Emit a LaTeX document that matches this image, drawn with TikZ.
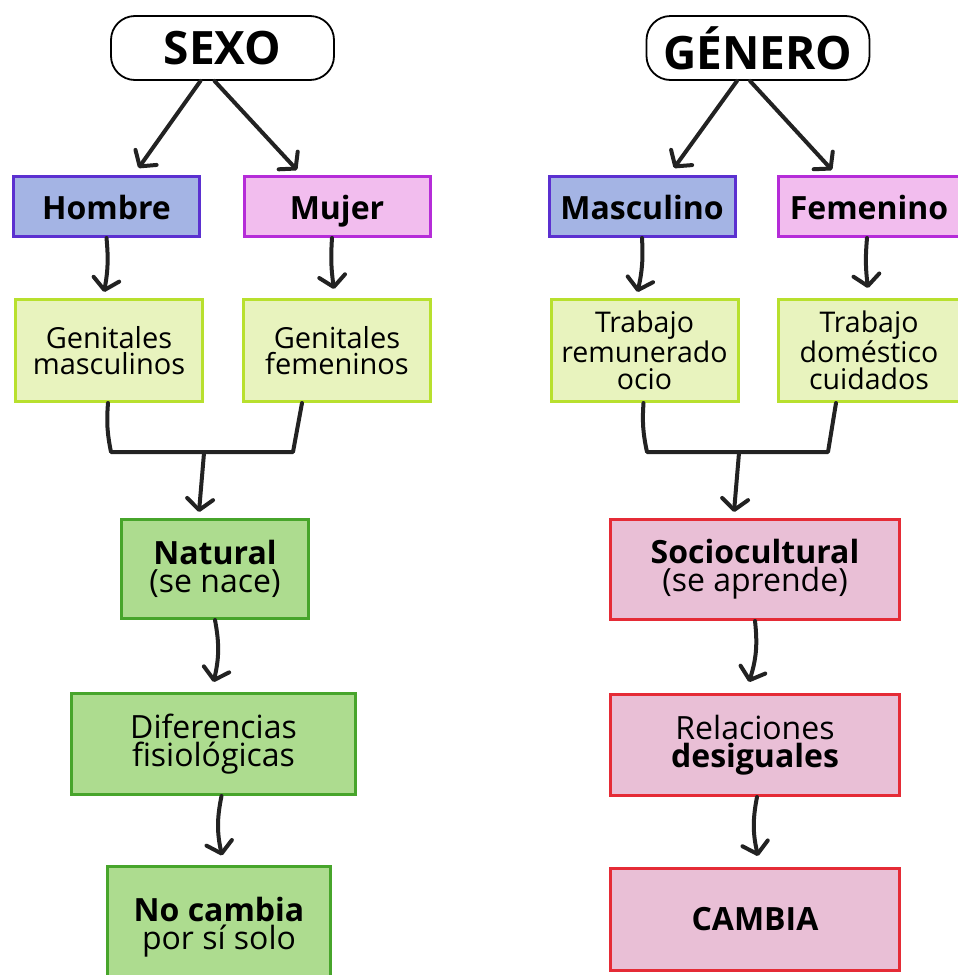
\documentclass[tikz,border=0pt]{standalone}
\usepackage{fontspec}
\setmainfont{Open Sans}
\usetikzlibrary{arrows.meta,calc}
\definecolor{hfill}{HTML}{A4B4E4}
\definecolor{hdraw}{HTML}{5B30D0}
\definecolor{mfill}{HTML}{F2BDEE}
\definecolor{mdraw}{HTML}{B52CD8}
\definecolor{lgfill}{HTML}{E8F3BE}
\definecolor{lgdraw}{HTML}{B8E02E}
\definecolor{gfill}{HTML}{ADDC8F}
\definecolor{gdraw}{HTML}{47A52B}
\definecolor{pfill}{HTML}{E9BFD6}
\definecolor{pdraw}{HTML}{E52B36}
\definecolor{arrowc}{HTML}{222222}
\begin{document}
\begin{tikzpicture}[x=1pt,y=-1pt,
  box/.style={draw, line width=3pt, inner sep=0pt, align=center, font=\fontsize{32}{28}\selectfont},
  titlebox/.style={draw=black, line width=1.8pt, rounded corners=24pt, fill=white, inner sep=0pt,
    font=\fontsize{46}{50}\selectfont\bfseries, minimum width=223pt, minimum height=64pt},
  onel/.style={box, text height=27pt, text depth=1pt, minimum width=186pt, minimum height=60pt},
  blue/.style={onel, fill=hfill, draw=hdraw},
  pinkv/.style={onel, fill=mfill, draw=mdraw},
  lgreen/.style={box, fill=lgfill, draw=lgdraw, minimum width=187pt, minimum height=102pt},
  green/.style={box, fill=gfill, draw=gdraw},
  rose/.style={box, fill=pfill, draw=pdraw},
  conn/.style={draw=arrowc, line width=4pt, line cap=round, line join=round},
  arr/.style={conn, -{Straight Barb[length=11pt,width=26pt,round]}}
]
\useasboundingbox (0,0) rectangle (958,975);
\clip (0,0) rectangle (958,975);

% titles
\node[titlebox] (sexo) at (222.5,48) {SEXO};
\node[titlebox] (genero) at (758,48) {GÉNERO};

% second row
\node[blue] (hombre) at (106.5,206.5) {\bfseries Hombre};
\node[pinkv] (mujer) at (337,206.5) {\bfseries Mujer};
\node[blue] (masc) at (642,206.5) {\bfseries Masculino};
\node[pinkv, minimum width=182pt] (fem) at (869,206.5) {\bfseries Femenino};

% third row
\node[lgreen, font=\fontsize{29}{25.5}\selectfont] (gm) at (109,350.5) {Genitales\\masculinos};
\node[lgreen, font=\fontsize{29}{25.5}\selectfont] (gf) at (337,350.5) {Genitales\\femeninos};
\node[lgreen, font=\fontsize{28.5}{27}\selectfont] (tr) at (644.5,350.5) {Trabajo\\remunerado\\ocio};
\node[lgreen, font=\fontsize{28.5}{27}\selectfont, minimum width=182pt] (td) at (869,350.5) {Trabajo\\doméstico\\cuidados};

% left column
\node[green, minimum width=187pt, minimum height=99pt] (natural) at (215,569) {\textbf{Natural}\\(se nace)};
\node[green, minimum width=284pt, minimum height=101pt] (dif) at (213.5,744) {Diferencias\\fisiológicas};
\node[green, minimum width=223pt, minimum height=122pt] (nocambia) at (219,927) {\textbf{No cambia}\\por sí solo};

% right column
\node[rose, minimum width=289pt, minimum height=100pt] (socio) at (755,569.5) {\textbf{Sociocultural}\\(se aprende)};
\node[rose, minimum width=289pt, minimum height=101pt] (rel) at (755,745) {Relaciones\\\textbf{desiguales}};
\node[rose, minimum width=289pt, minimum height=102pt] (cambia) at (755,919.5) {\textbf{CAMBIA}};

% arrows from titles
\draw[arr] ($(sexo.south)+(-22,0)$) -- ($(hombre.north)+(32,-7)$);
\draw[arr] ($(sexo.south)+(-8,0)$) -- ($(mujer.north)+(-40,-5)$);
\draw[arr] ($(genero.south)+(-21,0)$) -- ($(masc.north)+(32,-7)$);
\draw[arr] ($(genero.south)+(-8,0)$) -- ($(fem.north)+(-37,-5)$);

% to third row
\draw[arr] (hombre.south) to[bend left=8] ($(gm.north)+(-5,-6)$);
\draw[arr] ($(mujer.south)+(-5,0)$) to[bend right=6] ($(gf.north)+(-3,-9)$);
\draw[arr] (masc.south) to[bend left=8] ($(tr.north)+(-7,-6)$);
\draw[arr] ($(fem.south)+(-2,0)$) to[bend right=6] ($(td.north)+(-1,-10)$);

% merges
\coordinate (jl1) at (111,452);
\coordinate (jr1) at (293,452);
\coordinate (jm1) at (204,453);
\draw[conn] ($(gm.south)+(-1,0)$) to[bend right=8] (jl1) -- (jr1) -- ($(gf.south)+(-35,0)$);
\draw[arr] (jm1) -- ($(natural.north)+(-16,-6)$);

\coordinate (jl2) at (647,452);
\coordinate (jr2) at (828,452);
\coordinate (jm2) at (739,453);
\draw[conn] ($(tr.south)+(-1,0)$) to[bend right=8] (jl2) -- (jr2) -- ($(td.south)+(-33,0)$);
\draw[arr] (jm2) -- ($(socio.north)+(-21,-6)$);

% columns
\draw[arr] (natural.south) to[bend left=12] ($(dif.north)+(0,-10)$);
\draw[arr] ($(dif.south)+(8,0)$) to[bend right=12] ($(nocambia.north)+(3,-9)$);
\draw[arr] (socio.south) to[bend left=12] ($(rel.north)+(-6,-11)$);
\draw[arr] ($(rel.south)+(2,0)$) to[bend right=12] ($(cambia.north)+(3,-11)$);
\end{tikzpicture}
\end{document}
